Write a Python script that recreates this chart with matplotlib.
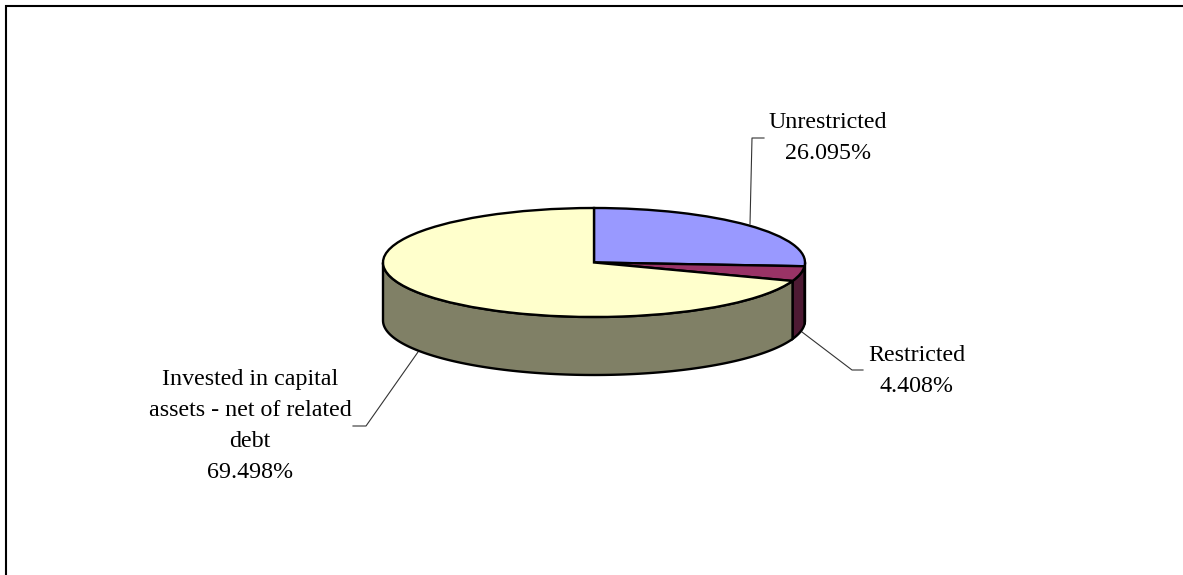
import matplotlib.pyplot as plt
from matplotlib.transforms import Affine2D
import numpy as np

names = ['Unrestricted', 'Restricted', 'Invested in capital\nassets - net of related\ndebt']
values = [26.095, 4.408, 69.498]
top_colors = ['#9999FF', '#993366', '#FFFFCC']
side_colors = ['#4C4C80', '#4D1A33', '#808066']

plt.rcParams['font.family'] = ['Liberation Serif', 'DejaVu Serif']

# pie geometry in pixels
cx, cy = 594, 262.5
rx, ry = 211, 54.5
depth = 58

fig = plt.figure(figsize=(11.83, 5.75), dpi=100)
ax = fig.add_axes([0, 0, 1, 1])

# top face, squashed afterwards with a transform
wedges, _ = ax.pie(values, colors=top_colors, startangle=90, counterclock=False,
                   wedgeprops={'edgecolor': 'black', 'linewidth': 1.7, 'zorder': 3})
squash = Affine2D().scale(rx, -ry).translate(cx, cy) + ax.transData
for w in wedges:
    w.set_transform(squash)

ax.set_box_aspect(None)
ax.set_aspect('auto')
ax.set_xlim(0, 1183)
ax.set_ylim(575, 0)
ax.axis('off')

# side walls, only the front half can be seen
edges = np.cumsum([0] + values) / sum(values) * 360
for i in range(len(values)):
    a = max(edges[i], 90)
    b = min(edges[i + 1], 270)
    if a >= b:
        continue
    t = np.radians(np.linspace(a, b, 120))
    xs = cx + rx * np.sin(t)
    ys = cy - ry * np.cos(t)
    ax.fill(np.r_[xs, xs[::-1]], np.r_[ys, ys[::-1] + depth], facecolor=side_colors[i],
            edgecolor='black', linewidth=1.7, zorder=2)

# leader lines
ax.plot([764, 752, 750], [138, 138, 224], color='#333333', lw=0.8, zorder=1)
ax.plot([802, 852, 863], [332, 370, 370], color='#333333', lw=0.8, zorder=1)
ax.plot([418, 366, 353], [352, 426, 426], color='#333333', lw=0.8, zorder=1)

# labels
label_pos = [(828, 138), (917, 371), (250, 426)]
for name, val, (lx, ly) in zip(names, values, label_pos):
    ax.text(lx, ly, f'{name}\n{val:.3f}%', ha='center', va='center', fontsize=17.3,
            linespacing=1.63, color='black')

# chart frame, only top and left are inside the picture
ax.plot([6, 6, 1183], [575, 6, 6], color='black', lw=1.5, solid_joinstyle='miter')

fig.savefig('out.png', dpi=100)
